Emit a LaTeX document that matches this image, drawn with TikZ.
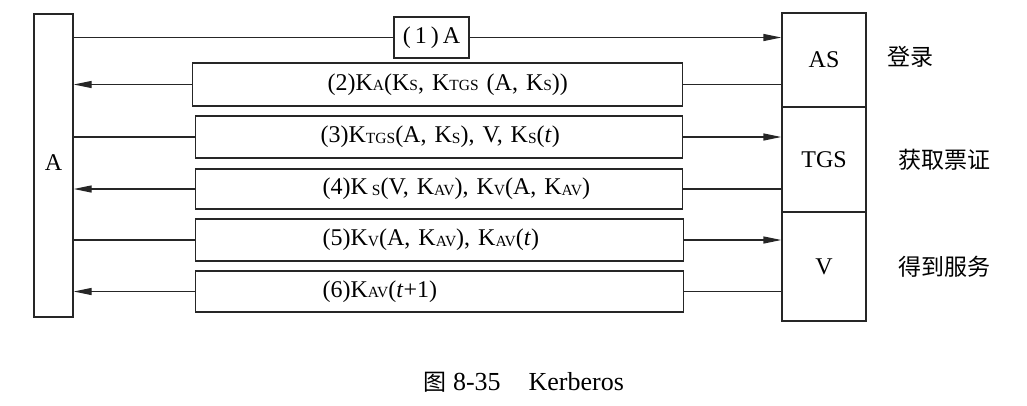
\documentclass[tikz,border=0pt]{standalone}
\usepackage{fontspec}
\setmainfont{Liberation Serif}
\newfontfamily\cjk{Noto Sans CJK SC}
\usetikzlibrary{arrows.meta}
\newcommand{\sbx}[1]{\raisebox{-0.5pt}{\fontsize{15.5}{15.5}\selectfont #1}}
\begin{document}
\begin{tikzpicture}[x=1pt,y=-1pt,
  box/.style={draw=black!85, line width=1.3pt, inner sep=0pt, font=\fontsize{24}{28}\selectfont},
  msg/.style={box, anchor=west},
  wire/.style={draw=black!85, line width=1.3pt},
  tip/.style={wire, -{Triangle[length=18pt,width=7pt]}},
  lbl/.style={font=\cjk\fontsize{23}{28}\selectfont}]
\useasboundingbox (0,0) rectangle (1027,405);

% left party
\node[box, minimum width=39pt, minimum height=303pt] (A) at (53.5,165.5) {\raisebox{5pt}{A}};

% right servers
\node[box, minimum width=84pt, minimum height=94pt] (AS) at (824,60) {AS};
\node[box, minimum width=84pt, minimum height=105pt] (TGS) at (824,159.5) {TGS};
\node[box, minimum width=84pt, minimum height=109pt] (V) at (824,266.5) {V};

% messages
\node[box, minimum width=75pt, minimum height=41pt] (m1) at (431.5,37.5) {(\,1\,)\,A};
\node[msg, minimum width=490pt, minimum height=43pt, text width=490pt] (m2) at (192,84.5)
  {\hspace*{135pt}(2)K\sbx{A}(K\sbx{S}, K\sbx{TGS} (A, K\sbx{S}))};
\node[msg, minimum width=487pt, minimum height=42pt, text width=487pt] (m3) at (195,137)
  {\hspace*{125pt}(3)K\sbx{TGS}(A, K\sbx{S}), V, K\sbx{S}(\textit{t})};
\node[msg, minimum width=487pt, minimum height=40pt, text width=487pt] (m4) at (195,189)
  {\hspace*{127pt}(4)K\,\sbx{S}(V, K\sbx{AV}), K\sbx{V}(A, K\sbx{AV})};
\node[msg, minimum width=488pt, minimum height=42pt, text width=488pt] (m5) at (195,240)
  {\hspace*{127pt}(5)K\sbx{V}(A, K\sbx{AV}), K\sbx{AV}(\textit{t})};
\node[msg, minimum width=488pt, minimum height=41pt, text width=488pt] (m6) at (195,291.5)
  {\hspace*{127pt}(6)K\sbx{AV}(\textit{t}+1)};

% connectors
\draw[wire] (A.east |- m1.west) -- (m1.west);
\draw[tip] (m1.east) -- (AS.west |- m1.east);
\draw[tip] (m2.west) -- (A.east |- m2.west);
\draw[wire] (m2.east) -- (AS.west |- m2.east);
\draw[wire] (A.east |- m3.west) -- (m3.west);
\draw[tip] (m3.east) -- (TGS.west |- m3.east);
\draw[tip] (m4.west) -- (A.east |- m4.west);
\draw[wire] (m4.east) -- (TGS.west |- m4.east);
\draw[wire] (A.east |- m5.west) -- (m5.west);
\draw[tip] (m5.east) -- (V.west |- m5.east);
\draw[tip] (m6.west) -- (A.east |- m6.west);
\draw[wire] (m6.east) -- (V.west |- m6.east);

% side labels
\node[lbl] (l1) at (910,57) {登录};
\node[lbl] (l2) at (944,160) {获取票证};
\node[lbl] (l3) at (944,267) {得到服务};

% caption
\node[anchor=west, font=\fontsize{26}{30}\selectfont] (cap) at (420,382)
  {{\cjk\fontsize{23}{28}\selectfont 图} 8-35\hspace{28pt}Kerberos};
\end{tikzpicture}
\end{document}
